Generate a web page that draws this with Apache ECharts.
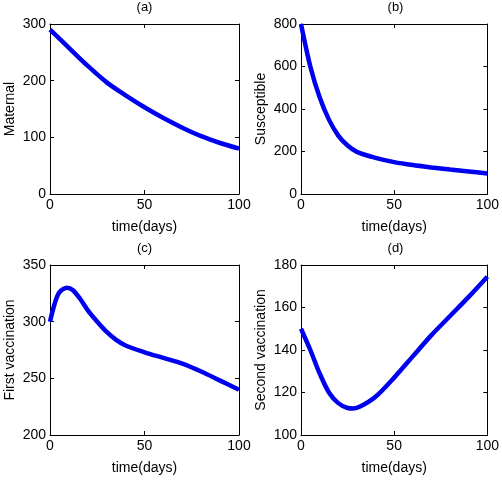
<!DOCTYPE html>
<html>
<head>
<meta charset="utf-8">
<script src="https://cdn.jsdelivr.net/npm/echarts@6/dist/echarts.min.js"></script>
<style>
  html, body { margin: 0; padding: 0; background: #fff; }
  #main { width: 502px; height: 482px; }
</style>
</head>
<body>
<div id="main"></div>
<script>
// values
var daysA = [0, 10, 20, 30, 40, 50, 60, 70, 80, 90, 100];
var maternal = [290, 258, 226, 197, 174, 153, 134, 117, 102, 90, 80];

var daysB = [0, 5, 10, 15, 20, 25, 30, 40, 50, 60, 70, 80, 90, 100];
var susceptible = [800, 600, 455, 350, 275, 228, 198, 170, 150, 136, 125, 115, 106, 97];

var daysC = [0, 2.5, 5, 9, 12, 16, 20, 25, 30, 35, 40, 50, 60, 70, 80, 90, 100];
var firstVacc = [300, 316, 326, 330, 328, 320, 310, 300, 291, 284, 279, 273, 268, 263, 256, 248, 240];

var daysD = [0, 5, 10, 15, 20, 25, 28, 32, 40, 50, 60, 70, 80, 90, 100];
var secondVacc = [150, 140, 129, 120, 115, 112.7, 112.5, 113.5, 118, 127, 137, 147, 156, 165, 174.5];

var panels = [
  { title: '(a)', yname: 'Maternal', x: daysA, y: maternal, min: 0, max: 300, step: 100 },
  { title: '(b)', yname: 'Susceptible', x: daysB, y: susceptible, min: 0, max: 800, step: 200 },
  { title: '(c)', yname: 'First vaccination', x: daysC, y: firstVacc, min: 200, max: 350, step: 50 },
  { title: '(d)', yname: 'Second vaccination', x: daysD, y: secondVacc, min: 100, max: 180, step: 20 }
];

var lefts = [50, 301];
var tops = [24, 265];
var font = 'Liberation Sans';

var option = {
  animation: false,
  backgroundColor: '#fff',
  title: [], grid: [], xAxis: [], yAxis: [], series: []
};

panels.forEach(function (p, i) {
  var left = lefts[i % 2], top = tops[Math.floor(i / 2)];
  option.grid.push({ left: left, top: top, width: 189, height: 170 });
  option.title.push({
    text: p.title, left: left + 94.5, top: top - 23, textAlign: 'center', padding: 0,
    textStyle: { fontSize: 13, fontWeight: 'normal', color: '#000', fontFamily: font }
  });
  var line = { show: true, onZero: false, lineStyle: { color: '#000', width: 1 } };
  var tick = { show: true, inside: true, length: 4, lineStyle: { color: '#000' } };
  // bottom / left axes with labels
  option.xAxis.push({
    gridIndex: i, type: 'value', min: 0, max: 100, interval: 50,
    name: 'time(days)', nameLocation: 'middle', nameGap: 26,
    nameTextStyle: { fontSize: 14, color: '#000', fontFamily: font },
    axisLine: line, axisTick: tick, splitLine: { show: false },
    axisLabel: { fontSize: 14, color: '#000', fontFamily: font, margin: 4 }
  });
  option.yAxis.push({
    gridIndex: i, type: 'value', min: p.min, max: p.max, interval: p.step,
    name: p.yname, nameLocation: 'middle', nameGap: 33, nameRotate: 90,
    nameTextStyle: { fontSize: 14, color: '#000', fontFamily: font },
    axisLine: line, axisTick: tick, splitLine: { show: false },
    axisLabel: { fontSize: 14, color: '#000', fontFamily: font, margin: 4 }
  });
  // top / right axes to close the box
  option.xAxis.push({
    gridIndex: i, type: 'value', position: 'top', min: 0, max: 100, interval: 50,
    axisLine: line, axisTick: tick, axisLabel: { show: false }, splitLine: { show: false }
  });
  option.yAxis.push({
    gridIndex: i, type: 'value', position: 'right', min: p.min, max: p.max, interval: p.step,
    axisLine: line, axisTick: tick, axisLabel: { show: false }, splitLine: { show: false }
  });
  option.series.push({
    type: 'line', xAxisIndex: i * 2, yAxisIndex: i * 2,
    data: p.x.map(function (t, k) { return [t, p.y[k]]; }),
    smooth: 0.3, showSymbol: false,
    lineStyle: { color: '#0000f0', width: 4.5 }
  });
});

var myChart = echarts.init(document.getElementById('main'));
myChart.setOption(option);
</script>
</body>
</html>
